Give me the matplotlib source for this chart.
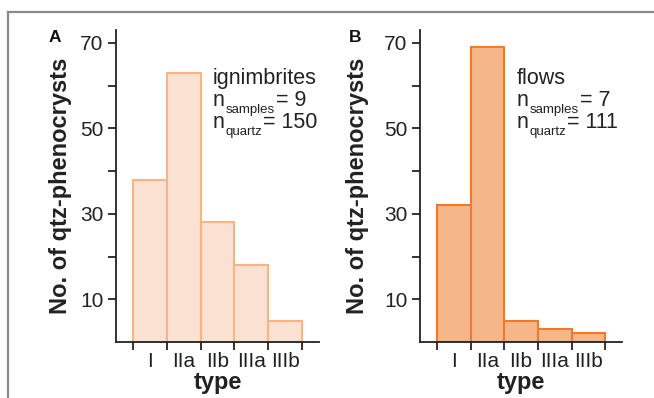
import matplotlib
matplotlib.use("Agg")
import matplotlib.pyplot as plt

plt.rcParams['font.family'] = ['Liberation Sans', 'DejaVu Sans']

types = ["I", "IIa", "IIb", "IIIa", "IIIb"]
ign_counts = [38, 63, 28, 18, 5]
flow_counts = [32, 69, 5, 3, 2]
panel_labels = ["A", "B"]
group_names = ["ignimbrites", "flows"]
n_samples = [9, 7]
n_quartz = [150, 111]
yticks_major = [10, 30, 50, 70]
yticks_minor = [20, 40, 60]

fills = ["#FBE1D1", "#F5B78A"]
edges = ["#F6B487", "#EE7A2F"]
txtc = "#222222"

W, H = 654, 398
fig = plt.figure(figsize=(W / 100, H / 100), dpi=100)


def fx(px):
    return px / W


def fy(py):
    return 1 - py / H


# outer gray frame (left and top visible)
fig.add_artist(plt.Line2D([fx(7.5), fx(7.5)], [0, fy(11.5)], transform=fig.transFigure,
                          color="#8a8a8a", lw=1.6))
fig.add_artist(plt.Line2D([fx(7.5), 1.0], [fy(11.5), fy(11.5)], transform=fig.transFigure,
                          color="#8a8a8a", lw=1.6))

axes_px = [(116, 319), (420, 622)]
top_px, bot_px = 30, 342
ylabelpads = [6, 11]
panel_label_x = [49, 349]
text_x = [213, 517]
baselines = [84, 106.5, 128.5]

datasets = [ign_counts, flow_counts]
for i, (x0, x1) in enumerate(axes_px):
    ax = fig.add_axes([fx(x0), fy(bot_px), (x1 - x0) / W, (bot_px - top_px) / H])
    pos = list(range(1, len(types) + 1))
    ax.bar(pos, datasets[i], width=1.0, color=fills[i], edgecolor=edges[i], linewidth=1.5)
    ax.set_xlim(0, 6)
    ax.set_ylim(0, 73)
    for s in ["top", "right"]:
        ax.spines[s].set_visible(False)
    for s in ["left", "bottom"]:
        ax.spines[s].set_linewidth(1.3)
        ax.spines[s].set_color(txtc)
    ax.set_yticks(yticks_major)
    ax.set_yticks(yticks_minor, minor=True)
    ax.tick_params(axis="y", which="both", length=5.5, width=1.3, color=txtc,
                   labelsize=15, pad=3.5, labelcolor=txtc)
    ax.set_xticks([p - 0.5 for p in pos] + [pos[-1] + 0.5])
    ax.set_xticklabels([])
    ax.tick_params(axis="x", which="major", length=6, width=1.3, color=txtc)
    ax.set_xticks(pos, minor=True)
    ax.set_xticklabels(types, minor=True)
    ax.tick_params(axis="x", which="minor", length=0, labelsize=15, pad=7, labelcolor=txtc)
    ax.set_xlabel("type", fontsize=17, fontweight="bold", labelpad=0.5, color=txtc)
    ax.set_ylabel("No. of qtz-phenocrysts", fontsize=17, fontweight="bold",
                  labelpad=ylabelpads[i], color=txtc)
    ax.patch.set_alpha(0)

    fig.text(fx(panel_label_x[i]), fy(37), panel_labels[i], fontsize=12.5,
             fontweight="bold", ha="left", va="center", color="#111111")

fig.canvas.draw()
renderer = fig.canvas.get_renderer()

for i in range(2):
    x = text_x[i]
    fig.text(fx(x), fy(baselines[0]), group_names[i], fontsize=15.5, ha="left",
             va="baseline", color=txtc)
    for j, (sub, val) in enumerate([("samples", n_samples[i]), ("quartz", n_quartz[i])]):
        b = baselines[j + 1]
        tn = fig.text(fx(x), fy(b), "n", fontsize=15.5, ha="left", va="baseline", color=txtc)
        ext = tn.get_window_extent(renderer)
        xs = ext.x1 + 0.5
        ts = fig.text(xs / W, fy(b + 6.5), sub, fontsize=9.5, ha="left", va="baseline",
                      color=txtc)
        ext2 = ts.get_window_extent(renderer)
        fig.text((ext2.x1 + 1) / W, fy(b), f"= {val}", fontsize=15.5, ha="left",
                 va="baseline", color=txtc)

fig.savefig("out.png", dpi=100, facecolor="white")
